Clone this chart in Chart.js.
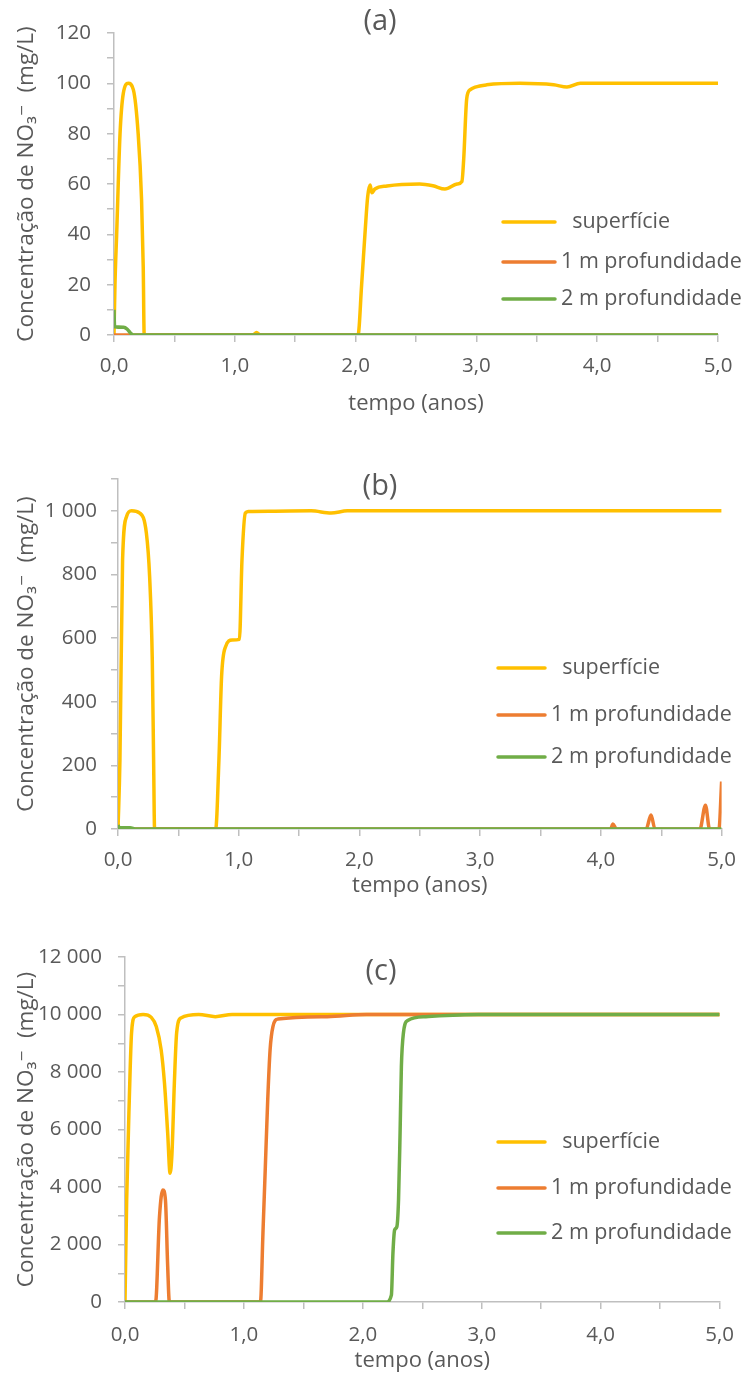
<!DOCTYPE html>
<html>
<head>
<meta charset="utf-8">
<script src="https://cdn.jsdelivr.net/npm/chart.js@4.4.1/dist/chart.umd.min.js"></script>
<style>
  html, body { margin: 0; padding: 0; background: #ffffff; }
  #wrap { position: relative; width: 748px; height: 1379px; }
  .panel { position: absolute; left: 0; width: 748px; }
</style>
</head>
<body>
<div id="wrap">
  <div class="panel" style="top:0px;height:440px"><canvas id="chartA"></canvas></div>
  <div class="panel" style="top:450px;height:455px"><canvas id="chartB"></canvas></div>
  <div class="panel" style="top:915px;height:464px"><canvas id="chartC"></canvas></div>
</div>
<script>
// ---- Series labels and axis text ----
const seriesNames = ['  superfície', '1 m profundidade', '2 m profundidade'];
const seriesColors = ['#FFC000', '#ED7D31', '#70AD47'];
const xTickLabels = ['0,0', '1,0', '2,0', '3,0', '4,0', '5,0'];
const xTitle = 'tempo (anos)';
const yTitle = 'Concentração de NO₃⁻  (mg/L)';

// ---- (a) 100 mg/L ----
const tempoA_sup = [0, 0.008, 0.022, 0.05, 0.077, 0.118, 0.16, 0.2, 0.228, 0.242, 0.25, 1.15, 1.18, 1.21, 2.02, 2.05, 2.08, 2.1, 2.12, 2.135, 2.16, 2.26, 2.53, 2.64, 2.74, 2.84, 2.88, 2.895, 2.92, 2.95, 2.99, 3.085, 3.36, 3.64, 3.75, 3.86, 4.2, 5.0];
const concA_sup  = [0, 20, 40, 80, 96, 100, 97.5, 80, 54, 27, 0, 0, 1, 0, 0, 20, 42, 55, 59.6, 56.5, 58, 59.2, 60, 59.3, 58, 60, 61, 70, 94, 97.5, 98.5, 99.4, 100, 99.4, 98.5, 100, 100, 100];
const tempoA_1m  = [0, 5.0];
const concA_1m   = [0, 0];
const tempoA_2m  = [0, 0.005, 0.08, 0.11, 0.14, 0.16, 5.0];
const concA_2m   = [10, 3.3, 3.1, 2.3, 0.6, 0, 0];

// ---- (b) 1 000 mg/L ----
const tempoB_sup = [0, 0.016, 0.038, 0.071, 0.112, 0.18, 0.235, 0.262, 0.284, 0.295, 0.303, 0.809, 0.836, 0.858, 0.891, 0.945, 1.006, 1.027, 1.055, 1.08, 1.3, 1.6, 1.765, 1.9, 2.5, 5.0];
const concB_sup  = [0, 217, 846, 982, 1000, 993, 930, 793, 531, 217, 0, 0, 217, 479, 573, 594, 596, 846, 993, 998, 999, 1000, 993, 1000, 1000, 1000];
const tempoB_1m  = [0, 4.08, 4.1, 4.128, 4.375, 4.415, 4.448, 4.82, 4.866, 4.9, 4.978, 5.0];
const concB_1m   = [0, 0, 16, 0, 0, 44, 0, 0, 75, 0, 0, 149];
const tempoB_2m  = [0, 0.01, 0.1, 0.15, 5.0];
const concB_2m   = [12, 5, 4, 0, 0];

// ---- (c) 10 000 mg/L ----
const tempoC_sup = [0, 0.014, 0.036, 0.055, 0.083, 0.152, 0.221, 0.263, 0.304, 0.332, 0.359, 0.379, 0.395, 0.415, 0.434, 0.47, 0.62, 0.76, 0.9, 5.0];
const concC_sup  = [0, 3550, 7020, 9350, 9925, 10000, 9900, 9580, 8770, 7610, 5870, 4480, 5170, 7610, 9350, 9880, 10000, 9925, 10000, 10000];
const tempoC_1m  = [0, 0.257, 0.29, 0.318, 0.34, 0.359, 0.373, 1.139, 1.16, 1.18, 1.2, 1.22, 1.244, 1.285, 1.7, 2.03, 5.0];
const concC_1m   = [0, 0, 2970, 3900, 3550, 1230, 0, 0, 2400, 4700, 7020, 8770, 9580, 9840, 9925, 10000, 10000];
const tempoC_2m  = [0, 2.197, 2.24, 2.253, 2.267, 2.286, 2.3, 2.313, 2.324, 2.341, 2.377, 2.53, 2.97, 5.0];
const concC_2m   = [0, 0, 240, 1700, 2500, 2620, 3550, 5870, 8180, 9350, 9790, 9925, 10000, 10000];

Chart.defaults.font.family = "'Open Sans', 'DejaVu Sans', sans-serif";
Chart.defaults.color = '#595959';

function pairs(xs, ys) { return xs.map((x, i) => ({ x: x, y: ys[i] })); }

function fmtThousands(v) {
  return String(Math.round(v)).replace(/\B(?=(\d{3})+(?!\d))/g, ' ');
}

// Draws the panel letter and the in-plot legend
const panelDecor = {
  id: 'panelDecor',
  afterDraw(chart, args, opts) {
    const ctx = chart.ctx;
    ctx.save();
    ctx.fillStyle = '#595959';
    ctx.textBaseline = 'middle';
    ctx.textAlign = 'center';
    ctx.font = "29px 'Open Sans', sans-serif";
    ctx.fillText(opts.title, opts.titleX, opts.titleY);
    ctx.textAlign = 'left';
    ctx.font = "21.5px 'Open Sans', sans-serif";
    opts.legendOrder.forEach((i, k) => {
      const d = chart.data.datasets[i];
      const y = opts.legendY[k];
      ctx.strokeStyle = d.borderColor;
      ctx.lineWidth = 3.5;
      ctx.lineCap = 'round';
      ctx.beginPath();
      ctx.moveTo(opts.lineX0, y);
      ctx.lineTo(opts.lineX1, y);
      ctx.stroke();
      ctx.fillText(d.label, opts.textX, y);
    });
    ctx.restore();
  }
};

function makeChart(id, cfg) {
  const H = cfg.canvasH;
  const top = cfg.area.top - cfg.panelTop;
  const bottom = cfg.area.bottom - cfg.panelTop;
  const datasets = cfg.series.map((s, i) => ({
    label: seriesNames[i],
    data: pairs(s[0], s[1]),
    borderColor: seriesColors[i],
    backgroundColor: seriesColors[i],
    borderWidth: 3.5,
    pointRadius: 0,
    fill: false,
    cubicInterpolationMode: 'monotone',
    order: 2 - i
  }));
  return new Chart(document.getElementById(id), {
    type: 'line',
    data: { datasets: datasets },
    options: {
      responsive: true,
      maintainAspectRatio: false,
      animation: false,
      events: [],
      layout: {
        padding: { left: 0, top: top, right: 748 - cfg.area.right, bottom: H - bottom - cfg.xH }
      },
      plugins: {
        legend: { display: false },
        tooltip: { enabled: false },
        panelDecor: {
          title: cfg.title,
          titleX: cfg.titleX,
          titleY: cfg.titleY - cfg.panelTop,
          legendOrder: [0, 1, 2],
          legendY: cfg.legendY.map(v => v - cfg.panelTop),
          lineX0: cfg.legendLine[0],
          lineX1: cfg.legendLine[1],
          textX: cfg.legendText
        }
      },
      scales: {
        x: {
          type: 'linear',
          min: 0, max: 5,
          afterFit(s) { s.height = cfg.xH; },
          border: { color: '#BFBFBF', width: 1.5 },
          grid: { drawOnChartArea: false, drawTicks: true, tickLength: 7, color: '#BFBFBF', lineWidth: 1.5 },
          ticks: {
            stepSize: 0.5, autoSkip: false, maxRotation: 0, padding: cfg.xTickPad,
            font: { size: 20.5 }, color: '#595959',
            callback(v) {
              const r = Math.round(v);
              return Math.abs(v - r) < 1e-6 ? xTickLabels[r] : '';
            }
          },
          title: { display: true, text: xTitle, font: { size: 22 }, color: '#595959', padding: { top: 0, bottom: 0 } }
        },
        y: {
          type: 'linear',
          min: 0, max: cfg.yMax,
          afterFit(s) { s.width = cfg.area.left; },
          border: { color: '#BFBFBF', width: 1.5 },
          grid: { drawOnChartArea: false, drawTicks: true, tickLength: 7, color: '#BFBFBF', lineWidth: 1.5 },
          ticks: {
            stepSize: cfg.yStep, autoSkip: false, padding: cfg.yTickPad,
            font: { size: 20.5 }, color: '#595959',
            callback(v) {
              return (Math.round(v) % cfg.yLabelEvery === 0) ? fmtThousands(v) : '';
            }
          },
          title: { display: true, text: yTitle, font: { size: 22.5 }, color: '#595959', padding: { top: 13, bottom: 0 } }
        }
      }
    },
    plugins: [panelDecor]
  });
}

makeChart('chartA', {
  panelTop: 0, canvasH: 440,
  area: { left: 114, right: 718, top: 33, bottom: 335 },
  xH: 82, xTickPad: 12, yTickPad: 16,
  yMax: 120, yStep: 10, yLabelEvery: 20,
  title: '(a)', titleX: 380, titleY: 22,
  legendY: [222, 262, 299], legendLine: [503, 555], legendText: 561,
  series: [[tempoA_sup, concA_sup], [tempoA_1m, concA_1m], [tempoA_2m, concA_2m]]
});

makeChart('chartB', {
  panelTop: 450, canvasH: 455,
  area: { left: 118, right: 728, top: 479, bottom: 829 },
  xH: 70, xTickPad: 12, yTickPad: 14,
  yMax: 1100, yStep: 100, yLabelEvery: 200,
  title: '(b)', titleX: 380, titleY: 487,
  legendY: [668, 715, 757], legendLine: [498, 545], legendText: 551,
  series: [[tempoB_sup, concB_sup], [tempoB_1m, concB_1m], [tempoB_2m, concB_2m]]
});

makeChart('chartC', {
  panelTop: 915, canvasH: 464,
  area: { left: 125, right: 728, top: 957, bottom: 1302 },
  xH: 72, xTickPad: 14, yTickPad: 16,
  yMax: 12000, yStep: 1000, yLabelEvery: 2000,
  title: '(c)', titleX: 381, titleY: 972,
  legendY: [1142, 1188, 1233], legendLine: [498, 545], legendText: 551,
  series: [[tempoC_sup, concC_sup], [tempoC_1m, concC_1m], [tempoC_2m, concC_2m]]
});
</script>
</body>
</html>
